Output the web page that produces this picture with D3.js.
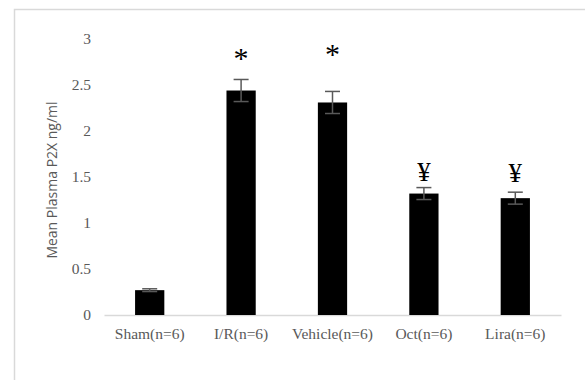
<!DOCTYPE html>
<html>
<head>
<meta charset="utf-8">
<script src="https://cdn.jsdelivr.net/npm/d3@7"></script>
<style>
  body { margin: 0; background: #fff; }
</style>
</head>
<body>
<div id="chart"></div>
<script>
// data
var groups = ["Sham(n=6)", "I/R(n=6)", "Vehicle(n=6)", "Oct(n=6)", "Lira(n=6)"];
var means = [0.27, 2.44, 2.31, 1.32, 1.27];
var errs = [0.015, 0.12, 0.12, 0.065, 0.065];
var marks = ["", "*", "*", "\u00A5", "\u00A5"];
var markLevels = [0, 2.68, 2.73, 1.46, 1.45];  // baseline of the mark, in axis units
var yTicks = [0, 0.5, 1, 1.5, 2, 2.5, 3];

var W = 585, H = 380;
var svg = d3.select("#chart").append("svg")
    .attr("width", W)
    .attr("height", H);

// chart area border (runs off the right and bottom edges)
svg.append("rect")
    .attr("x", 14.5).attr("y", 9.5)
    .attr("width", 700).attr("height", 500)
    .attr("fill", "none")
    .attr("stroke", "#d9d9d9")
    .attr("stroke-width", 1.5);

var x = d3.scaleBand().domain(groups).range([104, 561]).paddingInner(0.68).paddingOuter(0.34);
var y = d3.scaleLinear().domain([0, 3]).range([315, 39]);

var serif = "'Liberation Serif', 'Times New Roman', serif";

// y tick labels only
var yAxis = svg.append("g")
    .attr("transform", "translate(104,0)")
    .call(d3.axisLeft(y).tickValues(yTicks).tickSize(0).tickPadding(13).tickFormat(d3.format("")));
yAxis.select(".domain").remove();
yAxis.attr("font-family", serif);
yAxis.selectAll("text")
    .attr("font-size", 15.5)
    .attr("fill", "#595959");

// x axis
var xAxis = svg.append("g")
    .attr("transform", "translate(0,315)")
    .call(d3.axisBottom(x).tickSize(0).tickPadding(13));
xAxis.attr("font-family", serif);
xAxis.select(".domain").attr("stroke", "#d9d9d9").attr("stroke-width", 1.5);
xAxis.selectAll("text")
    .attr("font-size", 15.5)
    .attr("fill", "#595959");

svg.append("text")
    .attr("transform", "translate(57,180) rotate(-90)")
    .attr("text-anchor", "middle")
    .attr("font-family", "'Open Sans', 'Liberation Sans', sans-serif")
    .attr("font-size", 14)
    .attr("fill", "#595959")
    .text("Mean Plasma P2X ng/ml");

// bars
svg.selectAll(".bar")
    .data(groups)
    .enter().append("rect")
    .attr("class", "bar")
    .attr("x", d => x(d))
    .attr("width", x.bandwidth())
    .attr("y", (d, i) => y(means[i]))
    .attr("height", (d, i) => y(0) - y(means[i]))
    .attr("fill", "#000");

// error bars
var eb = svg.selectAll(".err")
    .data(groups)
    .enter().append("g")
    .attr("class", "err")
    .attr("stroke", "#595959")
    .attr("stroke-width", 1.5);
eb.append("line")
    .attr("x1", d => x(d) + x.bandwidth() / 2)
    .attr("x2", d => x(d) + x.bandwidth() / 2)
    .attr("y1", (d, i) => y(means[i] - errs[i]))
    .attr("y2", (d, i) => y(means[i] + errs[i]));
eb.append("line")
    .attr("x1", d => x(d) + x.bandwidth() / 2 - 7.5)
    .attr("x2", d => x(d) + x.bandwidth() / 2 + 7.5)
    .attr("y1", (d, i) => y(means[i] + errs[i]))
    .attr("y2", (d, i) => y(means[i] + errs[i]));
eb.append("line")
    .attr("x1", d => x(d) + x.bandwidth() / 2 - 7.5)
    .attr("x2", d => x(d) + x.bandwidth() / 2 + 7.5)
    .attr("y1", (d, i) => y(means[i] - errs[i]))
    .attr("y2", (d, i) => y(means[i] - errs[i]));

// significance marks
svg.selectAll(".mark")
    .data(groups)
    .enter().append("text")
    .attr("class", "mark")
    .attr("x", d => x(d) + x.bandwidth() / 2)
    .attr("y", (d, i) => y(markLevels[i]))
    .attr("text-anchor", "middle")
    .attr("font-family", serif)
    .attr("font-size", (d, i) => marks[i] == "*" ? 30 : 27)
    .attr("fill", "#000")
    .text((d, i) => marks[i]);
</script>
</body>
</html>
